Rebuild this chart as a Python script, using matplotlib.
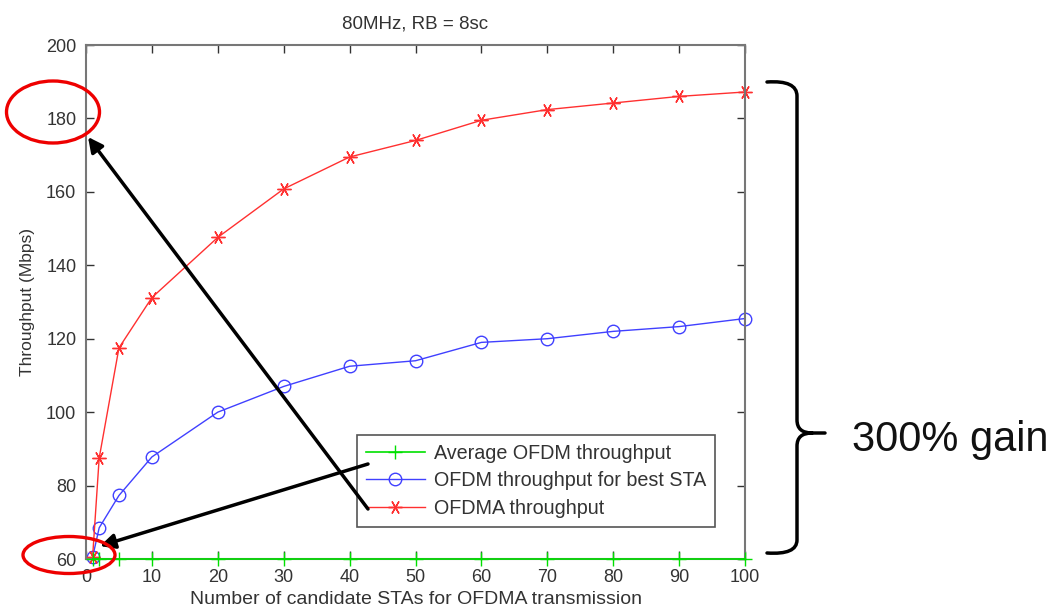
import matplotlib
matplotlib.use('Agg')
import matplotlib.pyplot as plt
from matplotlib.patches import Ellipse, PathPatch
from matplotlib.path import Path

# Dados
n_stas = [1, 2, 5, 10, 20, 30, 40, 50, 60, 70, 80, 90, 100]
avg_ofdm = [60, 60, 60, 60, 60, 60, 60, 60, 60, 60, 60, 60, 60]
ofdm_best = [60.5, 68.5, 77.3, 87.8, 100, 107, 112.5, 114, 119, 120, 122, 123.3, 125.5]
ofdma = [60.5, 87.5, 117.5, 131.2, 147.6, 160.8, 169.5, 174, 179.5, 182.4, 184.2, 186, 187.2]

x_ticks = [0, 10, 20, 30, 40, 50, 60, 70, 80, 90, 100]
y_ticks = [60, 80, 100, 120, 140, 160, 180, 200]

W, H = 1057, 612
plt.rcParams['font.family'] = ['Liberation Sans', 'DejaVu Sans']

fig = plt.figure(figsize=(W / 100, H / 100), dpi=100)
ax = fig.add_axes([86 / W, 1 - 559 / H, (745 - 86) / W, (559 - 45) / H])

ax.plot(n_stas, avg_ofdm, color='#00e000', marker='+', markersize=10, lw=1.2,
        label='Average OFDM throughput', clip_on=False, zorder=3)
ax.plot(n_stas, ofdm_best, color='#4040ff', marker='o', markersize=9, mfc='none', lw=1.0,
        label='OFDM throughput for best STA', clip_on=False)
ax.plot(n_stas, ofdma, color='#ff3030', marker=(6, 2, 90), markersize=10, lw=1.0,
        label='OFDMA throughput', clip_on=False)

ax.set_xlim(0, 100)
ax.set_ylim(60, 200)
ax.set_xticks(x_ticks)
ax.set_yticks(y_ticks)
ax.tick_params(direction='in', length=6, width=1, top=True, right=True,
               labelsize=13, colors='#333333', pad=7)
for s in ax.spines.values():
    s.set_color('#777777')
    s.set_linewidth(1.5)

ax.set_title('80MHz, RB = 8sc', fontsize=13.5, color='#333333', pad=12)
ax.set_xlabel('Number of candidate STAs for OFDMA transmission', fontsize=14, color='#333333', labelpad=4)
ax.set_ylabel('Throughput (Mbps)', fontsize=12.5, color='#333333', labelpad=8)

leg = ax.legend(loc='lower left', bbox_to_anchor=(0.411, 0.062), borderaxespad=0,
                fontsize=14.2, fancybox=False, framealpha=1, handlelength=3.0,
                labelspacing=0.45, borderpad=0.45, handletextpad=0.45)
leg.get_frame().set_edgecolor('#555555')
leg.get_frame().set_linewidth(1.2)
for t in leg.get_texts():
    t.set_color('#333333')


def fp(x, y):
    # pixel (origem no topo) -> fração da figura
    return (x / W, 1 - y / H)


# elipses vermelhas
for cx, cy, ew, eh in [(53, 112, 93, 62), (69, 555, 92, 37)]:
    e = Ellipse(fp(cx, cy), ew / W, eh / H, transform=fig.transFigure,
                fill=False, edgecolor='#ee0000', lw=2.4, zorder=10)
    fig.patches.append(e)

# setas pretas
for tail, head in [((368, 509), (88, 137)), ((368, 464), (100, 546))]:
    ax.annotate('', xy=(head[0], H - head[1]), xytext=(tail[0], H - tail[1]),
                xycoords='figure pixels', textcoords='figure pixels',
                arrowprops=dict(arrowstyle='-|>', lw=2.5, color='black', mutation_scale=22,
                                shrinkA=0, shrinkB=0), zorder=11)

# chave à direita
verts = [(767, 82), (797, 80), (797, 96), (797, 420), (797, 433), (812, 433), (825, 433),
         (812, 433), (797, 433), (797, 446), (797, 540), (797, 555), (767, 553)]
codes = [Path.MOVETO, Path.CURVE3, Path.CURVE3, Path.LINETO, Path.CURVE3, Path.CURVE3, Path.LINETO,
         Path.MOVETO, Path.CURVE3, Path.CURVE3, Path.LINETO, Path.CURVE3, Path.CURVE3]
brace = PathPatch(Path([fp(x, y) for x, y in verts], codes), transform=fig.transFigure,
                  fill=False, lw=2.5, edgecolor='black', capstyle='round')
fig.patches.append(brace)

fig.text(852 / W, 1 - 440 / H, '300% gain', fontsize=30, color='#111111', va='center', ha='left')

fig.savefig('out.png', dpi=100)
